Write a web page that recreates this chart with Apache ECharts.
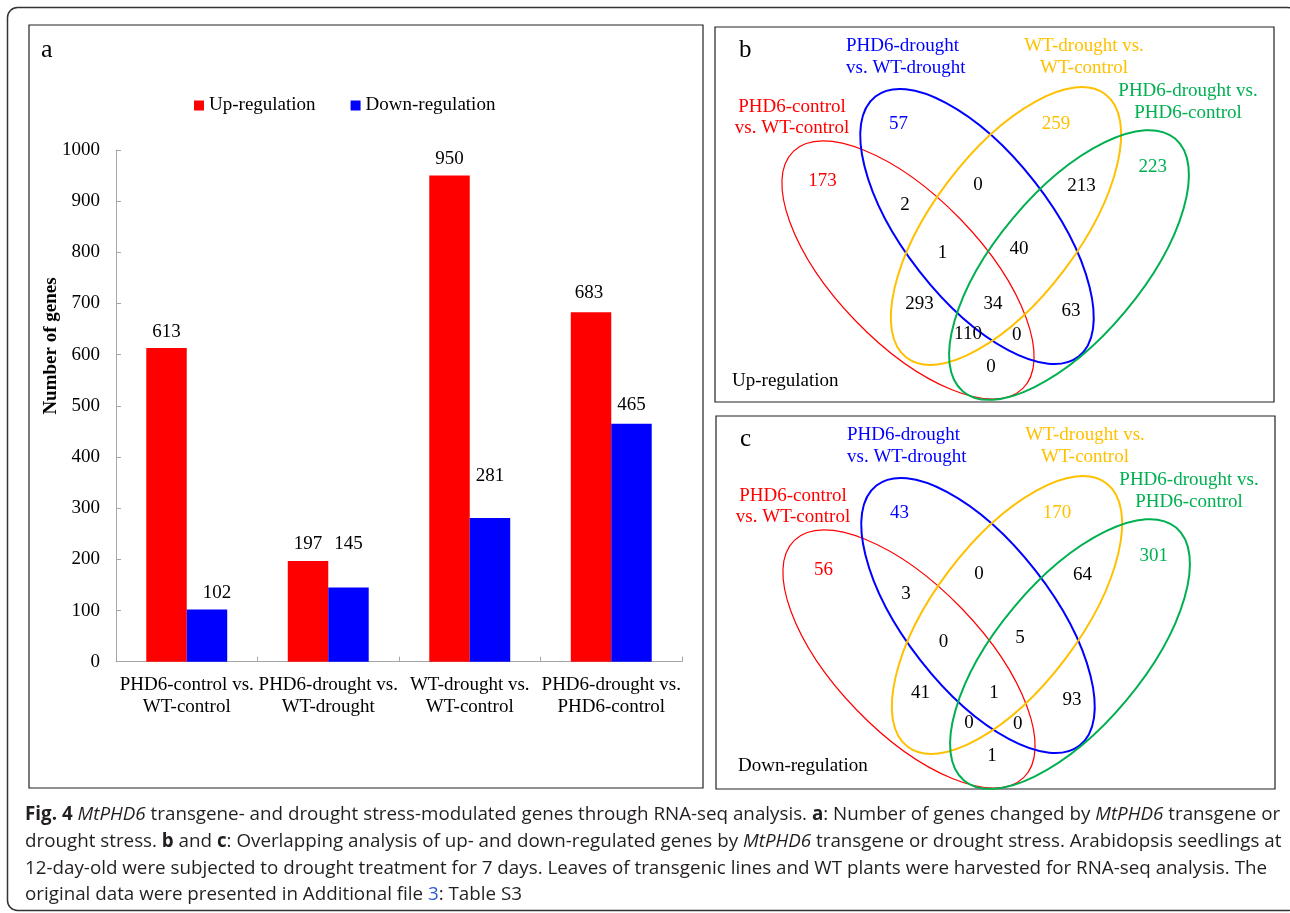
<!DOCTYPE html>
<html>
<head>
<meta charset="utf-8">
<script src="https://cdn.jsdelivr.net/npm/echarts@6/dist/echarts.min.js"></script>
<style>
html,body{margin:0;padding:0;background:#fff;}
#chart{width:1290px;height:913px;}
</style>
</head>
<body>
<div id="chart"></div>
<script>
// ---------- DATA ----------
const categories = [
  'PHD6-control vs.\nWT-control',
  'PHD6-drought vs.\nWT-drought',
  'WT-drought vs.\nWT-control',
  'PHD6-drought vs.\nPHD6-control'
];
const seriesNames = ['Up-regulation', 'Down-regulation'];
const upRegulation = [613, 197, 950, 683];
const downRegulation = [102, 145, 281, 465];
const yAxisTitle = 'Number of genes';

// Venn set names (red, blue, yellow, green)
const vennSetNames = [
  'PHD6-control\nvs. WT-control',
  'PHD6-drought\nvs. WT-drought',
  'WT-drought vs.\nWT-control',
  'PHD6-drought vs.\nPHD6-control'
];
// region order: B only, Y only, R only, G only, B∩Y, Y∩G, R∩B, R∩B∩Y, B∩Y∩G, R∩Y, R∩B∩Y∩G, B∩G, R∩Y∩G, R∩B∩G, R∩G
const vennUpCounts   = [57, 259, 173, 223, 0, 213, 2, 1, 40, 293, 34, 63, 110, 0, 0];
const vennDownCounts = [43, 170, 56, 301, 0, 64, 3, 0, 5, 41, 1, 93, 0, 0, 1];

const captionLines = [
  '{b|Fig. 4} {i|MtPHD6} transgene- and drought stress-modulated genes through RNA-seq analysis. {b|a}: Number of genes changed by {i|MtPHD6} transgene or',
  'drought stress. {b|b} and {b|c}: Overlapping analysis of up- and down-regulated genes by {i|MtPHD6} transgene or drought stress. Arabidopsis seedlings at',
  '12-day-old were subjected to drought treatment for 7 days. Leaves of transgenic lines and WT plants were harvested for RNA-seq analysis. The',
  'original data were presented in Additional file {l|3}: Table S3'
];

// ---------- STYLE / LAYOUT ----------
const SERIF = '"Liberation Serif", "Times New Roman", serif';
const RED = '#FF0000', BLUE = '#0000FF', YELLOW = '#FFC000', GREEN = '#00B050';
const AXIS_GRAY = '#a6a6a6';
const CAP_SIZE = 18.8;

// label nudges for readability (as in the figure)
const upLabelShift = [[0,0],[0,0],[0,0],[-2,-3]];
const downLabelShift = [[10,0],[0,-27],[0,-25],[0,-2]];

// rot: degrees, positive = clockwise on screen
const ellipseGeom = [
  {c:[193,243], rot:46, color:RED, lw:1.2},
  {c:[262,199.5], rot:52, color:BLUE, lw:2},
  {c:[291,199], rot:-53, color:YELLOW, lw:2},
  {c:[354,238], rot:-50, color:GREEN, lw:2}
];
const ellipseRx = 165, ellipseRy = 73;
const setLabelGeom = [
  {x:77, y:90.5, align:'center', color:RED},
  {x:131, y:30, align:'left', color:BLUE},
  {x:369, y:30, align:'center', color:YELLOW},
  {x:473, y:75, align:'center', color:GREEN}
];
const regionPos = [[183.5,97],[341,97],[107.5,154.5],[437.7,140],[263,158],[366.4,159],[190,178],
  [227.5,226],[304,222],[204.5,277],[278,277],[356,284],[253,307],[301.7,308.5],[276,340.5]];
const regionColor = [BLUE, YELLOW, RED, GREEN];

function vennPanel(box, letter, letterY, title, titleX, titleY, counts) {
  const [ox, oy, w, h] = box;
  const els = [];
  els.push({type:'rect', shape:{x:ox, y:oy, width:w, height:h}, style:{fill:'none', stroke:'#222', lineWidth:1.2}, z:1});
  ellipseGeom.forEach(g => {
    els.push({type:'ellipse', x:ox+g.c[0], y:oy+g.c[1], rotation:-g.rot*Math.PI/180,
      shape:{cx:0, cy:0, rx:ellipseRx, ry:ellipseRy},
      style:{fill:'none', stroke:g.color, lineWidth:g.lw}, z:2});
  });
  setLabelGeom.forEach((g, i) => {
    els.push({type:'text', x:ox+g.x, y:oy+g.y, z:3,
      style:{text:vennSetNames[i], font:'19px ' + SERIF, fill:g.color, align:g.align, verticalAlign:'middle', lineHeight:21.5}});
  });
  counts.forEach((v, i) => {
    els.push({type:'text', x:ox+regionPos[i][0], y:oy+regionPos[i][1], z:3,
      style:{text:String(v), font:'19px ' + SERIF, fill: i < 4 ? regionColor[i] : '#000', align:'center', verticalAlign:'middle'}});
  });
  els.push({type:'text', x:ox+24, y:letterY, z:3, style:{text:letter, font:'25px ' + SERIF, fill:'#000', align:'left', verticalAlign:'middle'}});
  els.push({type:'text', x:ox+titleX, y:oy+titleY, z:3, style:{text:title, font:'19px ' + SERIF, fill:'#000', align:'left', verticalAlign:'middle'}});
  return els;
}

const CAP_FAMILY = '"Open Sans", sans-serif';
const captionRich = {
  b: {fontWeight:'bold', fontFamily:CAP_FAMILY, fontSize:CAP_SIZE, fill:'#231f20'},
  i: {fontStyle:'italic', fontFamily:CAP_FAMILY, fontSize:CAP_SIZE, fill:'#231f20'},
  l: {fontFamily:CAP_FAMILY, fontSize:CAP_SIZE, fill:'#2a5bd7'}
};
const captionY = [815, 841.7, 868.3, 895];

const graphics = [
  {type:'rect', shape:{x:7.5, y:7.5, width:1290, height:903, r:10}, style:{fill:'none', stroke:'#333', lineWidth:1.5}, z:0},
  {type:'rect', shape:{x:29, y:25, width:674, height:763}, style:{fill:'none', stroke:'#222', lineWidth:1.2}, z:1},
  {type:'text', x:41, y:50.5, style:{text:'a', font:'26px ' + SERIF, fill:'#000', align:'left', verticalAlign:'middle'}, z:3},
  {type:'text', x:51, y:346, rotation:Math.PI/2, style:{text:yAxisTitle, font:'bold 19px ' + SERIF, fill:'#000', align:'center', verticalAlign:'middle'}, z:3}
].concat(
  vennPanel([715, 27, 559, 375], 'b', 50, 'Up-regulation', 17, 354, vennUpCounts),
  vennPanel([716, 416, 559, 373], 'c', 439, 'Down-regulation', 22, 350, vennDownCounts),
  captionLines.map((t, i) => ({type:'text', x:25, y:captionY[i], z:3,
    style:{text:t, rich:captionRich, font:CAP_SIZE + 'px ' + CAP_FAMILY, fill:'#231f20', align:'left', verticalAlign:'middle'}}))
);

const chart = echarts.init(document.getElementById('chart'), null, {renderer:'canvas'});
chart.setOption({
  animation: false,
  backgroundColor: '#fff',
  textStyle: {fontFamily: SERIF},
  legend: {
    data: seriesNames,
    left: 194, top: 96, padding: 0,
    itemWidth: 10, itemHeight: 10, itemGap: 35,
    icon: 'rect',
    textStyle: {fontFamily: SERIF, fontSize: 19, color: '#000'}
  },
  grid: {left: 116, top: 150, width: 566, height: 511.7, containLabel: false},
  xAxis: {
    type: 'category',
    data: categories,
    axisLine: {lineStyle: {color: AXIS_GRAY, width: 1}},
    axisTick: {show: true, inside: true, length: 5, alignWithLabel: false, lineStyle: {color: AXIS_GRAY}},
    axisLabel: {interval: 0, margin: 12, fontFamily: SERIF, fontSize: 19, color: '#000', lineHeight: 22}
  },
  yAxis: {
    type: 'value',
    min: 0, max: 1000, interval: 100,
    axisLine: {show: true, lineStyle: {color: AXIS_GRAY, width: 1}},
    axisTick: {show: true, inside: true, length: 5, lineStyle: {color: AXIS_GRAY}},
    axisLabel: {margin: 16, fontFamily: SERIF, fontSize: 19, color: '#000', formatter: v => String(v)},
    splitLine: {show: false}
  },
  series: [
    {
      name: seriesNames[0], type: 'bar', barWidth: '28.6%', barGap: '0%',
      itemStyle: {color: RED},
      label: {show: true, position: 'top', distance: 7, fontFamily: SERIF, fontSize: 19, color: '#000'},
      data: upRegulation.map((v, i) => ({value: v, label: {offset: upLabelShift[i]}}))
    },
    {
      name: seriesNames[1], type: 'bar', barWidth: '28.6%', barGap: '0%',
      itemStyle: {color: BLUE},
      label: {show: true, position: 'top', distance: 7, fontFamily: SERIF, fontSize: 19, color: '#000'},
      data: downRegulation.map((v, i) => ({value: v, label: {offset: downLabelShift[i]}}))
    }
  ],
  graphic: graphics
});
</script>
</body>
</html>
